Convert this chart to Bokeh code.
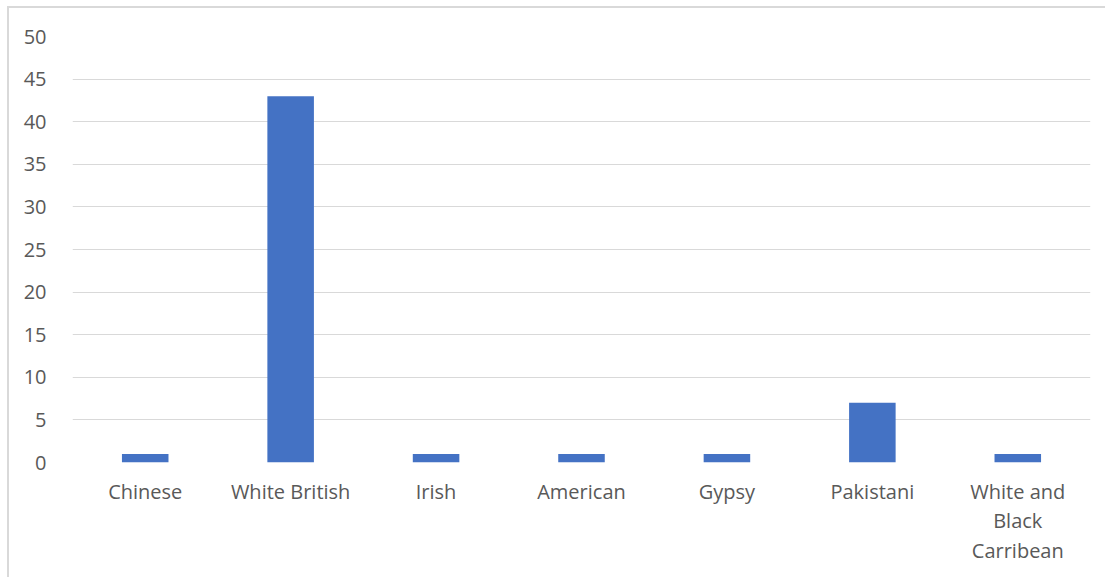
from bokeh.plotting import figure
from bokeh.models import Range1d, FactorRange, ColumnDataSource, SingleIntervalTicker
from bokeh.embed import file_html
from bokeh.resources import INLINE

categories = ["Chinese", "White British", "Irish", "American", "Gypsy", "Pakistani", "White and\nBlack\nCarribean"]
counts = [1, 43, 1, 1, 1, 7, 1]

src = ColumnDataSource(data=dict(cat=categories, val=counts))

p = figure(x_range=FactorRange(*categories), y_range=Range1d(0, 50),
           width=1098, height=571, output_backend="svg", toolbar_location=None,
           min_border_left=63, min_border_right=17, min_border_top=28, min_border_bottom=117)
p.margin = (6, 0, 0, 7)
p.styles = {"border-left": "2px solid #d9d9d9", "border-top": "2px solid #d9d9d9", "box-sizing": "border-box"}

p.vbar(x="cat", top="val", width=0.32, source=src, fill_color="#4472C4", line_color=None)

p.outline_line_color = None
p.background_fill_color = "white"
p.border_fill_color = "white"

p.xgrid.grid_line_color = None
p.ygrid.grid_line_color = "#d9d9d9"
p.ygrid.grid_line_width = 1
p.yaxis.ticker = SingleIntervalTicker(interval=5)

for ax in (p.xaxis, p.yaxis):
    ax.axis_line_color = None
    ax.major_tick_line_color = None
    ax.minor_tick_line_color = None
    ax.major_tick_out = 0
    ax.major_tick_in = 0
    ax.major_label_text_font = "Open Sans"
    ax.major_label_text_font_size = "20px"
    ax.major_label_text_color = "#595959"

p.yaxis.major_label_standoff = 22
p.xaxis.major_label_standoff = 15
p.xaxis.major_label_text_line_height = 1.1

open("out.html", "w").write(file_html(p, INLINE))
